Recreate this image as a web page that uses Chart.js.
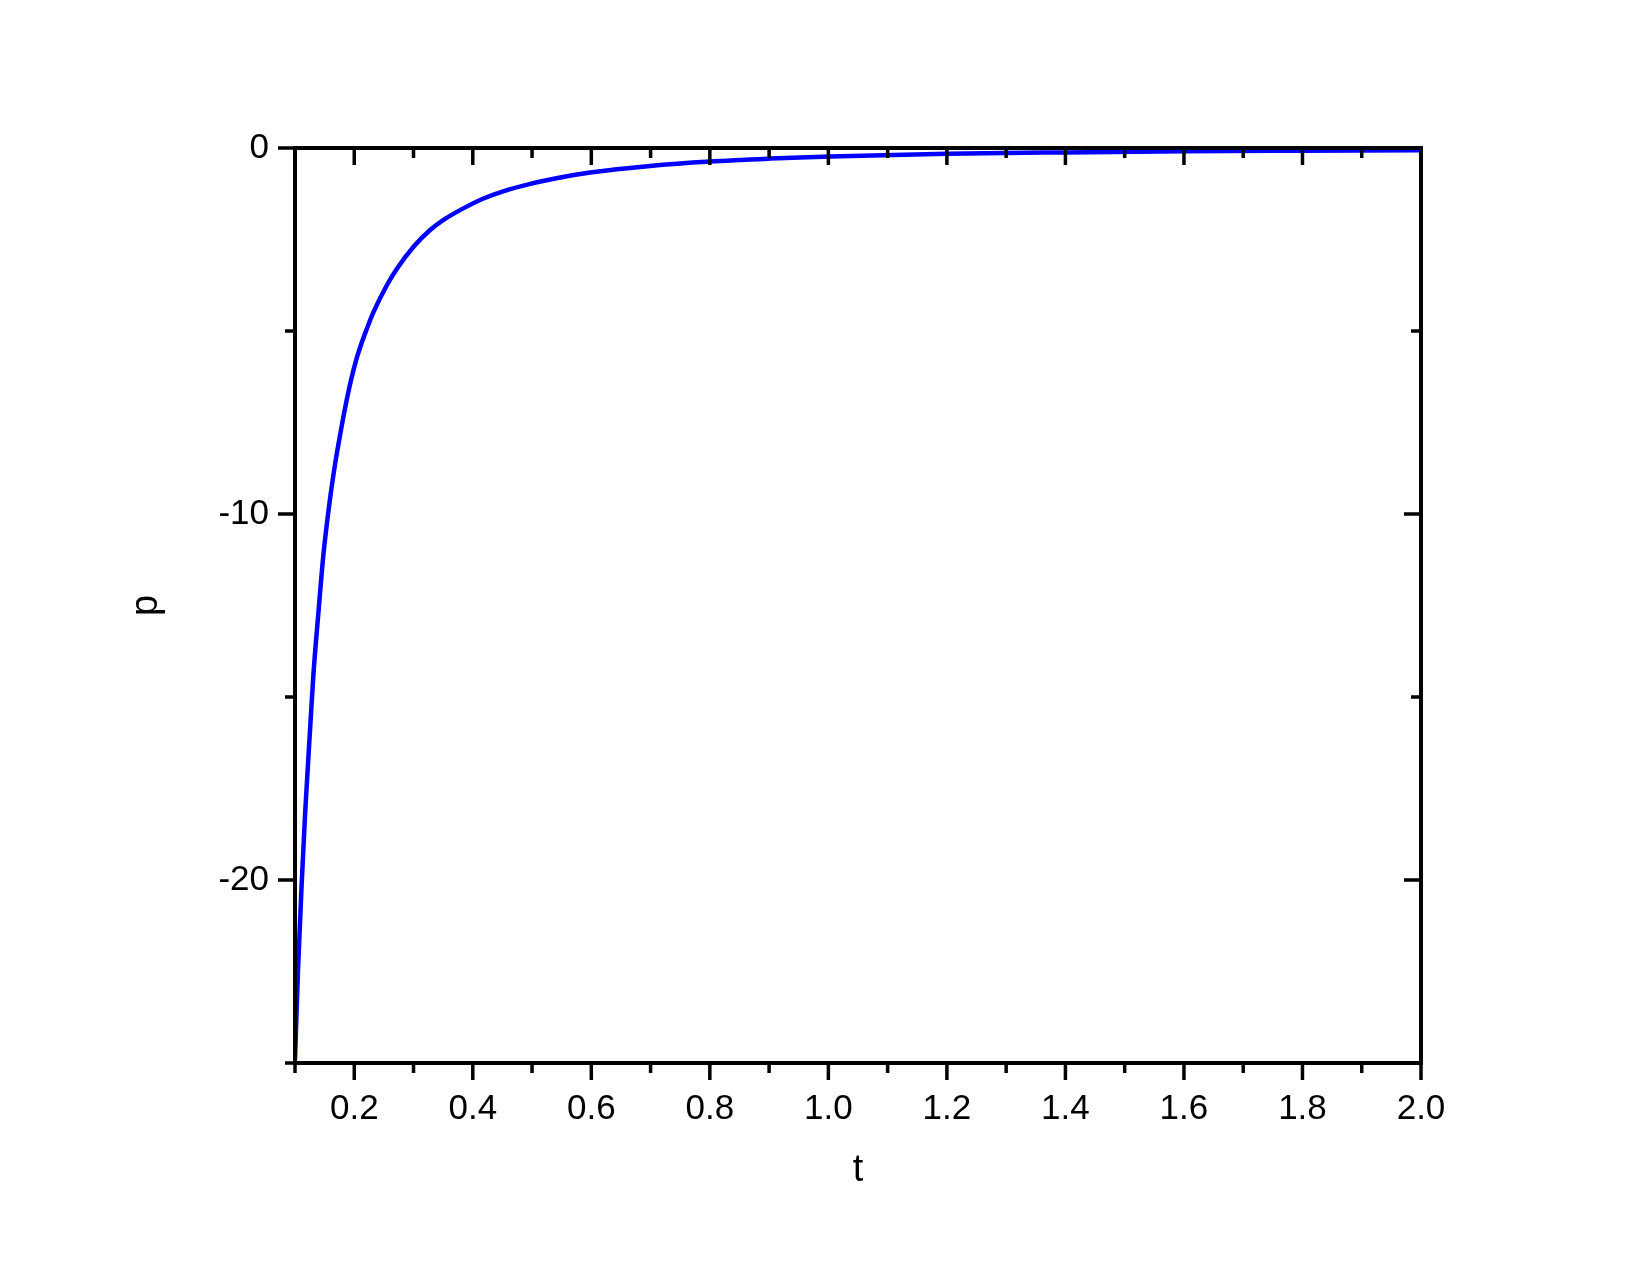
<!DOCTYPE html>
<html>
<head>
<meta charset="utf-8">
<script src="https://cdn.jsdelivr.net/npm/chart.js@4.4.1/dist/chart.umd.min.js"></script>
<style>
  html, body { margin: 0; padding: 0; background: #ffffff; }
  canvas { display: block; }
</style>
</head>
<body>
<canvas id="chart" width="1650" height="1275"></canvas>
<script>
// curve values
const tValues = [0.100, 0.105, 0.111, 0.117, 0.125, 0.131, 0.140, 0.148, 0.159, 0.168,
                 0.176, 0.184, 0.193, 0.204, 0.213, 0.221, 0.232, 0.255, 0.272, 0.300,
                 0.328, 0.350, 0.384, 0.418, 0.450, 0.497, 0.550, 0.598, 0.699, 0.800,
                 0.902, 1.003, 1.200, 1.400, 1.600, 1.800, 2.000];
const pValues = [-24.9, -22.5, -20.2, -18.2, -16.0, -14.4, -12.6, -11.1, -9.6, -8.6,
                 -7.85, -7.15, -6.45, -5.75, -5.3, -4.95, -4.5, -3.75, -3.3, -2.7,
                 -2.24, -1.97, -1.65, -1.38, -1.19, -0.98, -0.80, -0.67, -0.49, -0.37,
                 -0.29, -0.23, -0.16, -0.12, -0.09, -0.075, -0.06];

// axis ticks (empty label = minor tick)
const xTickValues = [0.1, 0.2, 0.3, 0.4, 0.5, 0.6, 0.7, 0.8, 0.9, 1.0,
                     1.1, 1.2, 1.3, 1.4, 1.5, 1.6, 1.7, 1.8, 1.9, 2.0];
const xTickLabels = ['', '0.2', '', '0.4', '', '0.6', '', '0.8', '', '1.0',
                     '', '1.2', '', '1.4', '', '1.6', '', '1.8', '', '2.0'];
const yTickValues = [-25, -20, -15, -10, -5, 0];
const yTickLabels = ['', '-20', '', '-10', '', '0'];

const xTitle = 't';
const yTitle = 'p';

const FONT = 'Liberation Sans, Arial, sans-serif';

function setTicks(values) {
    return function(scale) {
        scale.ticks = values.map(v => ({ value: v }));
    };
}

function labelFor(values, labels) {
    return function(value) {
        const i = values.findIndex(v => Math.abs(v - value) < 1e-9);
        return i >= 0 ? labels[i] : '';
    };
}

// frame + inward/outward ticks like the original plot
const framePlugin = {
    id: 'frame',
    afterDraw(chart) {
        const ctx = chart.ctx;
        const area = chart.chartArea;
        const xs = chart.scales.x;
        const ys = chart.scales.y;
        ctx.save();
        ctx.strokeStyle = '#000000';
        ctx.lineCap = 'butt';

        ctx.lineWidth = 3.5;
        xTickValues.forEach((v, i) => {
            const px = xs.getPixelForValue(v);
            const len = xTickLabels[i] ? 17 : 10;
            ctx.beginPath();
            ctx.moveTo(px, area.bottom);
            ctx.lineTo(px, area.bottom + len);
            ctx.moveTo(px, area.top);
            ctx.lineTo(px, area.top + len);
            ctx.stroke();
        });
        yTickValues.forEach((v, i) => {
            const py = ys.getPixelForValue(v);
            const len = yTickLabels[i] ? 17 : 10;
            ctx.beginPath();
            ctx.moveTo(area.left, py);
            ctx.lineTo(area.left - len, py);
            ctx.moveTo(area.right, py);
            ctx.lineTo(area.right - len, py);
            ctx.stroke();
        });

        ctx.lineWidth = 4;
        ctx.strokeRect(area.left, area.top, area.right - area.left, area.bottom - area.top);
        ctx.restore();
    }
};

new Chart(document.getElementById('chart'), {
    type: 'line',
    data: {
        datasets: [{
            data: tValues.map((t, i) => ({ x: t, y: pValues[i] })),
            borderColor: '#0000ff',
            borderWidth: 4.5,
            pointRadius: 0,
            fill: false,
            cubicInterpolationMode: 'monotone'
        }]
    },
    options: {
        responsive: false,
        animation: false,
        events: [],
        layout: { padding: { left: 0, top: 148, right: 229, bottom: 0 } },
        plugins: {
            legend: { display: false },
            tooltip: { enabled: false }
        },
        scales: {
            x: {
                type: 'linear',
                min: 0.1,
                max: 2.0,
                afterBuildTicks: setTicks(xTickValues),
                afterFit(scale) { scale.height = 212; },
                grid: { display: false, drawTicks: false },
                border: { display: false },
                ticks: {
                    autoSkip: false,
                    maxRotation: 0,
                    padding: 25,
                    color: '#000000',
                    font: { family: FONT, size: 35 },
                    callback: labelFor(xTickValues, xTickLabels)
                },
                title: {
                    display: true,
                    text: xTitle,
                    color: '#000000',
                    font: { family: FONT, size: 38 },
                    padding: { top: 0, bottom: 82 }
                }
            },
            y: {
                type: 'linear',
                min: -25,
                max: 0,
                afterBuildTicks: setTicks(yTickValues),
                afterFit(scale) { scale.width = 295; },
                grid: { display: false, drawTicks: false },
                border: { display: false },
                ticks: {
                    autoSkip: false,
                    padding: 26,
                    color: '#000000',
                    font: { family: FONT, size: 35 },
                    callback: labelFor(yTickValues, yTickLabels)
                },
                title: {
                    display: true,
                    text: yTitle,
                    color: '#000000',
                    font: { family: FONT, size: 38 },
                    padding: { top: 124, bottom: 0 }
                }
            }
        }
    },
    plugins: [framePlugin]
});
</script>
</body>
</html>
